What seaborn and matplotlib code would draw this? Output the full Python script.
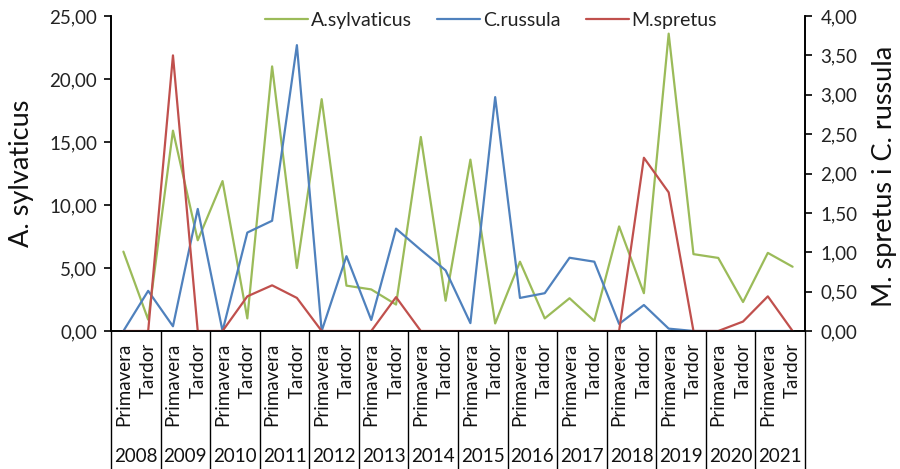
import matplotlib
matplotlib.use("Agg")
import matplotlib.pyplot as plt
import matplotlib.transforms as mtransforms
from matplotlib.ticker import FuncFormatter
import seaborn as sns
import pandas as pd
import numpy as np

years = [2008, 2009, 2010, 2011, 2012, 2013, 2014, 2015, 2016, 2017, 2018, 2019, 2020, 2021]
seasons = ["Primavera", "Tardor"]

a_sylvaticus = [6.3, 0.9, 15.9, 7.2, 11.9, 1.0, 21.0, 5.0, 18.4, 3.6, 3.3, 2.1, 15.4, 2.4,
                13.6, 0.6, 5.5, 1.0, 2.6, 0.8, 8.3, 3.0, 23.6, 6.1, 5.8, 2.3, 6.2, 5.1]
c_russula = [0.0, 0.51, 0.06, 1.55, 0.0, 1.25, 1.40, 3.63, 0.0, 0.95, 0.14, 1.30, 1.03, 0.77,
             0.10, 2.97, 0.42, 0.48, 0.93, 0.88, 0.09, 0.33, 0.03, 0.0, 0.0, 0.0, 0.0, 0.0]
m_spretus = [0.0, 0.0, 3.50, 0.0, 0.0, 0.44, 0.58, 0.42, 0.0, 0.0, 0.0, 0.43, 0.0, 0.0,
             0.0, 0.0, 0.0, 0.0, 0.0, 0.0, 0.0, 2.20, 1.76, 0.0, 0.0, 0.12, 0.44, 0.0]

GREEN = "#9BBB59"
BLUE = "#4F81BD"
RED = "#C0504D"

sns.set_style("white")
plt.rcParams["font.family"] = ["Lato", "DejaVu Sans"]

n = len(years) * len(seasons)
df = pd.DataFrame({
    "idx": np.arange(n),
    "A.sylvaticus": a_sylvaticus,
    "C.russula": c_russula,
    "M.spretus": m_spretus,
})

fig = plt.figure(figsize=(9, 4.69), dpi=100)
ax = fig.add_axes([111 / 900, 1 - 331 / 469, (805 - 111) / 900, (331 - 16) / 469])
ax2 = ax.twinx()

sns.lineplot(data=df, x="idx", y="A.sylvaticus", ax=ax, color=GREEN, lw=1.6, legend=False)
sns.lineplot(data=df, x="idx", y="C.russula", ax=ax2, color=BLUE, lw=1.6, legend=False)
sns.lineplot(data=df, x="idx", y="M.spretus", ax=ax2, color=RED, lw=1.6, legend=False)

ax.set_xlim(-0.5, n - 0.5)
ax.set_ylim(0, 25)
ax2.set_ylim(0, 4)
ax.set_yticks(np.arange(0, 25.01, 5))
ax2.set_yticks(np.arange(0, 4.01, 0.5))
fmt = FuncFormatter(lambda v, p: f"{v:.2f}".replace(".", ","))
ax.yaxis.set_major_formatter(fmt)
ax2.yaxis.set_major_formatter(fmt)

for a in (ax, ax2):
    a.set_xticks([])
    a.set_xlabel("")
    a.spines["top"].set_visible(False)
    for s in a.spines.values():
        s.set_color("black")
        s.set_linewidth(1.2)
    a.tick_params(axis="y", length=5, width=1.2, color="black", labelsize=13.5,
                  direction="out", pad=5, labelcolor="#222222")

ax.tick_params(axis="y", left=True, right=False)
ax2.tick_params(axis="y", right=True, left=False, pad=6)
ax.set_ylabel("A. sylvaticus", fontsize=19.5, color="#111111")
ax2.set_ylabel("M. spretus i C. russula", fontsize=19.5, color="#111111", rotation=90)
ax.yaxis.set_label_coords(-0.111, 0.5)
ax2.yaxis.set_label_coords(1.096, 0.49)

# category table under the axis
trans = mtransforms.blended_transform_factory(ax.transData, ax.transAxes)
bottom = -(469 - 331) / 315
for k in range(len(years) + 1):
    xb = -0.5 + 2 * k
    ax.plot([xb, xb], [0, bottom], transform=trans, color="black", lw=1.0, clip_on=False)
for i in range(n):
    ax.text(i, -0.036, seasons[i % 2], transform=trans, rotation=90, ha="center", va="top",
            fontsize=13.5, color="#111111")
for k, yr in enumerate(years):
    ax.text(2 * k + 0.5, -(456 - 331) / 315, str(yr), transform=trans, ha="center", va="center",
            fontsize=13.5, color="#111111")

handles = ax.get_lines()[:1] + ax2.get_lines()[:2]
labels = ["A.sylvaticus", "C.russula", "M.spretus"]
leg = ax.legend(handles, labels, loc="center", bbox_to_anchor=(0.548, 0.985), ncol=3,
                frameon=False, fontsize=14, handlelength=2.2, columnspacing=1.3,
                handletextpad=0.15, borderpad=0)
for t in leg.get_texts():
    t.set_color("#222222")

fig.savefig("out.png", dpi=100)
